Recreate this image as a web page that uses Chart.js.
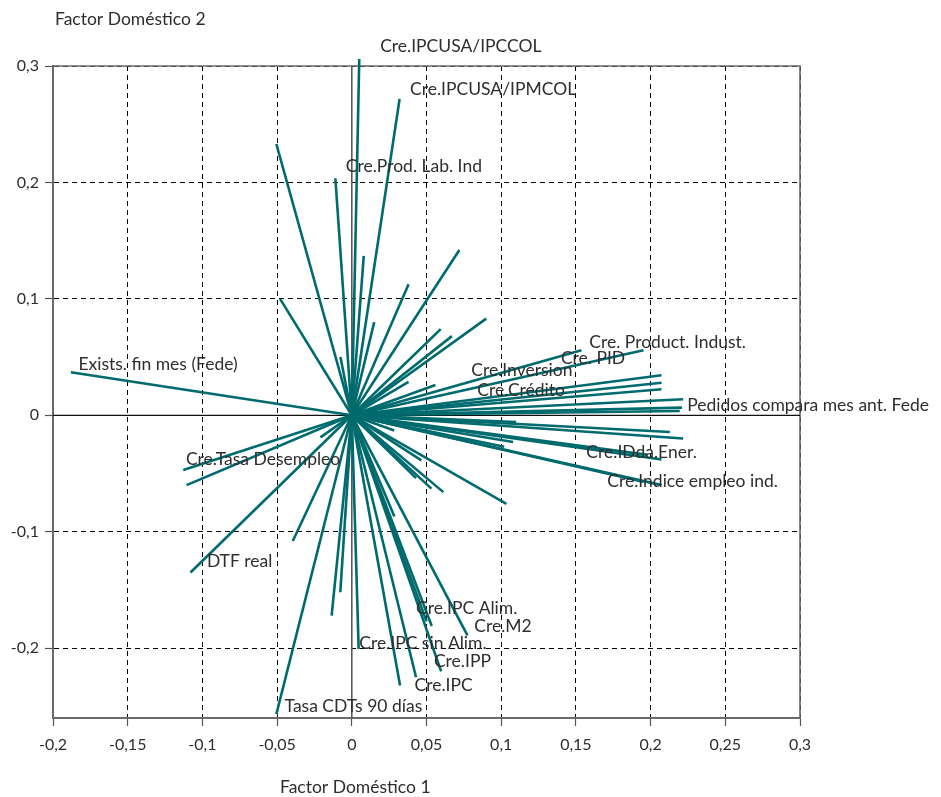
<!DOCTYPE html>
<html>
<head>
<meta charset="utf-8">
<script src="https://cdn.jsdelivr.net/npm/chart.js@4/dist/chart.umd.min.js"></script>
<style>
  html, body { margin: 0; padding: 0; background: #ffffff; }
  #wrap { width: 941px; height: 797px; }
</style>
</head>
<body>
<div id="wrap"><canvas id="c" width="941" height="797"></canvas></div>
<script>
// ---- data: loadings (Factor Doméstico 1, Factor Doméstico 2) ----
const loadX = [
  0.005, 0.032, -0.011, -0.0505, 0.008, 0.072, -0.048, 0.038, 0.09, 0.015,
  0.0595, 0.067, -0.0076, 0.038, 0.056,
  0.1537, 0.1952, 0.2073, 0.2073, 0.2073, 0.2218, 0.221, 0.2195,
  0.2129, 0.2218, 0.110, 0.108, 0.102, 0.198, 0.2073, 0.195, 0.2073,
  0.1035, 0.0613, 0.0533, 0.043, 0.0466, 0.0284, 0.0285,
  0.0535, 0.050, 0.0774, 0.0598, 0.043, 0.0323, 0.0046,
  -0.0077, -0.0135, -0.0505, -0.0395, -0.021, -0.108, -0.1106, -0.1128, -0.188
];
const loadY = [
  0.306, 0.2717, 0.2036, 0.233, 0.137, 0.142, 0.100, 0.1126, 0.083, 0.080,
  0.074, 0.068, 0.050, 0.0287, 0.026,
  0.0559, 0.0559, 0.0344, 0.028, 0.0224, 0.0138, 0.0066, 0.0037,
  -0.0143, -0.020, -0.0058, -0.023, -0.027, -0.034, -0.038, -0.057, -0.060,
  -0.076, -0.066, -0.063, -0.054, -0.0387, -0.013, -0.087,
  -0.181, -0.177, -0.189, -0.220, -0.225, -0.232, -0.2008,
  -0.152, -0.172, -0.2567, -0.108, -0.019, -0.135, -0.060, -0.047, 0.037
];

// variable names and where their text sits (data coordinates)
const varNames = [
  'Cre.IPCUSA/IPCCOL', 'Cre.IPCUSA/IPMCOL', 'Cre.Prod. Lab. Ind',
  'Cre. Product. Indust.', 'Cre. PID', 'Cre.Inversion', 'Cre.Crédito',
  'Pedidos compara mes ant. Fede', 'Cre.IDda.Ener.', 'Cre.Indice empleo ind.',
  'Exists. fin mes (Fede)', 'Cre.Tasa Desempleo', 'DTF real',
  'Cre.IPC Alim.', 'Cre.M2', 'Cre.IPC sin Alim.', 'Cre.IPP', 'Cre.IPC',
  'Tasa CDTs 90 días'
];
const nameX = [
  0.019, 0.039, -0.004,
  0.159, 0.140, 0.080, 0.084,
  0.2245, 0.157, 0.171,
  -0.183, -0.111, -0.097,
  0.043, 0.082, 0.005, 0.055, 0.042,
  -0.045
];
const nameY = [
  0.317, 0.280, 0.214,
  0.063, 0.049, 0.0387, 0.0215,
  0.0086, -0.032, -0.057,
  0.044, -0.038, -0.1255,
  -0.166, -0.181, -0.196, -0.211, -0.232,
  -0.250
];

const xTickValues = [-0.2, -0.15, -0.1, -0.05, 0, 0.05, 0.1, 0.15, 0.2, 0.25, 0.3];
const xTickLabels = ['-0,2', '-0,15', '-0,1', '-0,05', '0', '0,05', '0,1', '0,15', '0,2', '0,25', '0,3'];
const yTickValues = [-0.2, -0.1, 0, 0.1, 0.2, 0.3];
const yTickLabels = ['-0,2', '-0,1', '0', '0,1', '0,2', '0,3'];
const xTitle = 'Factor Doméstico 1';
const yTitle = 'Factor Doméstico 2';

// ---- chart ----
const FONT = 'Lato, "Open Sans", sans-serif';
const TEAL = '#006b6e';
const TEXT = '#2e2e2e';

const datasets = loadX.map((x, i) => ({
  data: [{ x: 0, y: 0 }, { x: x, y: loadY[i] }],
  showLine: true,
  borderColor: TEAL,
  borderWidth: 2.6,
  pointRadius: 0,
  pointHoverRadius: 0,
  clip: false,
  borderCapStyle: 'butt'
}));

const decorations = {
  id: 'decorations',
  beforeDatasetsDraw(chart) {
    const { ctx, chartArea: a, scales: { x, y } } = chart;
    ctx.save();
    ctx.strokeStyle = '#6a6a6a';
    ctx.lineWidth = 1.6;
    ctx.beginPath();
    ctx.moveTo(a.left, a.top);
    ctx.lineTo(a.right, a.top);
    ctx.lineTo(a.right, a.bottom);
    ctx.stroke();
    const x0 = x.getPixelForValue(0);
    const y0 = y.getPixelForValue(0);
    ctx.strokeStyle = '#5a5a5a';
    ctx.lineWidth = 1.6;
    ctx.beginPath();
    ctx.moveTo(x0, a.top);
    ctx.lineTo(x0, a.bottom);
    ctx.stroke();
    ctx.strokeStyle = '#111111';
    ctx.lineWidth = 1.2;
    ctx.beginPath();
    ctx.moveTo(a.left, y0);
    ctx.lineTo(a.right, y0);
    ctx.stroke();
    ctx.restore();
  },
  afterDatasetsDraw(chart) {
    const { ctx, scales: { x, y } } = chart;
    ctx.save();
    ctx.fillStyle = TEXT;
    ctx.font = '17.5px ' + FONT;
    ctx.textAlign = 'left';
    ctx.textBaseline = 'middle';
    varNames.forEach((t, i) => {
      ctx.fillText(t, x.getPixelForValue(nameX[i]), y.getPixelForValue(nameY[i]));
    });
    ctx.fillText(yTitle, 55, 19);
    ctx.fillText(xTitle, 280, 787);
    ctx.restore();
  }
};

new Chart(document.getElementById('c'), {
  type: 'scatter',
  data: { datasets },
  options: {
    responsive: false,
    animation: false,
    events: [],
    layout: { padding: { top: 66, right: 141, left: 0, bottom: 0 } },
    plugins: { legend: { display: false }, tooltip: { enabled: false } },
    scales: {
      x: {
        type: 'linear',
        min: -0.2,
        max: 0.3,
        afterBuildTicks: s => { s.ticks = xTickValues.map(v => ({ value: v })); },
        afterFit: s => { s.height = 79; },
        ticks: {
          callback: (v, i) => xTickLabels[i],
          font: { family: FONT, size: 16 },
          color: TEXT,
          padding: 9,
          maxRotation: 0,
          autoSkip: false
        },
        grid: { color: '#000000', lineWidth: 1, tickLength: 8, tickColor: '#555555', tickWidth: 1.2 },
        border: { display: true, color: '#6a6a6a', width: 2, dash: [5, 4] }
      },
      y: {
        type: 'linear',
        min: -0.26,
        max: 0.3,
        afterBuildTicks: s => { s.ticks = yTickValues.map(v => ({ value: v })); },
        afterFit: s => { s.width = 53; },
        ticks: {
          callback: (v, i) => yTickLabels[i],
          font: { family: FONT, size: 16 },
          color: TEXT,
          padding: 6,
          autoSkip: false
        },
        grid: { color: '#000000', lineWidth: 1, tickLength: 8, tickColor: '#555555', tickWidth: 1.2 },
        border: { display: true, color: '#6a6a6a', width: 2, dash: [5, 4] }
      }
    }
  },
  plugins: [decorations]
});
</script>
</body>
</html>
